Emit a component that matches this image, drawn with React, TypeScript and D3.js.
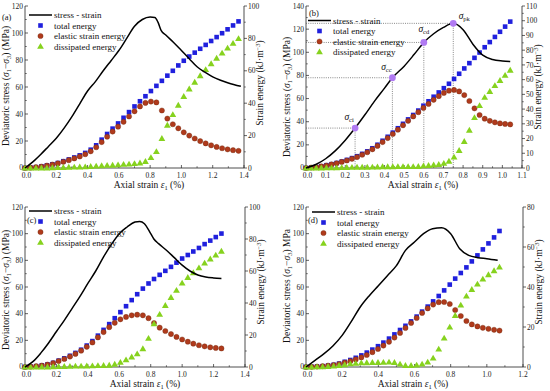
import React from 'react';
import * as d3 from 'd3';

const FONT = '"Liberation Serif", "Times New Roman", serif';

// ---------- panel (a) ----------
const strainA = [0, 0.035, 0.07, 0.105, 0.14, 0.175, 0.21, 0.245, 0.28, 0.315, 0.35, 0.385, 0.42, 0.455, 0.49, 0.525, 0.56, 0.595, 0.63, 0.665, 0.7, 0.735, 0.77, 0.805, 0.84, 0.875, 0.91, 0.945, 0.98, 1.015, 1.05, 1.085, 1.12, 1.155, 1.19, 1.225, 1.26, 1.295, 1.33, 1.365];
const totalA = [0, 0.2, 0.5, 1.0, 1.6, 2.3, 3.1, 4.2, 5.3, 6.5, 7.8, 9.3, 11.3, 14, 17.5, 21, 24.3, 27.5, 31, 34.5, 38, 41.2, 44.3, 47.5, 50.7, 53.8, 57, 60, 63.3, 66.2, 68.8, 71.2, 73.6, 76, 78.4, 80.8, 83.2, 85.6, 88, 90.5];
const elasticA = [0, 0.2, 0.5, 0.9, 1.5, 2.1, 2.8, 3.8, 4.8, 5.9, 7.1, 8.5, 10.3, 12.8, 16, 19.3, 22.5, 25.5, 28.5, 31.8, 35, 38, 40.2, 41, 40.5, 35.5, 30.5, 27, 24.5, 22, 20, 18.2, 16.6, 15.2, 14, 13, 12.2, 11.5, 11, 10.6];
const dissipatedA = [0, 0, 0, 0.1, 0.1, 0.2, 0.3, 0.4, 0.5, 0.6, 0.7, 0.8, 1.0, 1.2, 1.5, 1.7, 1.8, 2.0, 2.3, 2.5, 2.8, 3.2, 4.1, 6.5, 10.2, 18.3, 26.5, 33, 38.8, 44.2, 48.8, 53, 57, 60.8, 64.4, 67.8, 71, 74.1, 77, 79.9];
const curveStrainA = [0, 0.05, 0.1, 0.15, 0.2, 0.25, 0.3, 0.35, 0.4, 0.45, 0.5, 0.55, 0.6, 0.65, 0.7, 0.75, 0.8, 0.83, 0.85, 0.87, 0.9, 0.95, 1.0, 1.05, 1.1, 1.15, 1.2, 1.25, 1.3, 1.38];
const curveStressA = [0, 4.5, 10, 16, 22, 29.5, 38, 47.5, 57, 64, 72, 79.5, 87, 96, 105, 110, 111.8, 111.5, 108, 102, 98.5, 93, 87, 81, 75, 71, 67.5, 65, 63, 60.5];

// ---------- panel (b) ----------
const strainB = [0, 0.026, 0.052, 0.078, 0.104, 0.13, 0.156, 0.182, 0.208, 0.234, 0.26, 0.286, 0.312, 0.338, 0.364, 0.39, 0.416, 0.442, 0.468, 0.494, 0.52, 0.546, 0.572, 0.598, 0.624, 0.65, 0.676, 0.702, 0.728, 0.754, 0.78, 0.806, 0.832, 0.858, 0.884, 0.91, 0.936, 0.962, 0.988, 1.014, 1.04];
const totalB = [0, 0.3, 0.7, 1.2, 1.9, 2.6, 3.4, 4.4, 5.5, 6.7, 8.0, 9.6, 11.3, 13.4, 15.8, 18.5, 21.2, 24, 27, 30, 33, 36, 39, 42.3, 45.3, 48.4, 51.3, 54.2, 57.2, 60.5, 64, 67.6, 71.2, 74.8, 78.4, 82, 85.5, 89, 92.5, 96, 99.4];
const elasticB = [0, 0.3, 0.6, 1.1, 1.7, 2.4, 3.2, 4.1, 5.1, 6.2, 7.4, 9, 10.7, 12.7, 15, 17.6, 20.3, 23.1, 26, 29, 32, 35, 37.9, 40.8, 43.5, 46.3, 48.8, 51, 52.5, 53, 52, 49.5, 45.5, 40.5, 36, 33.5, 32, 31, 30.3, 29.9, 29.6];
const dissipatedB = [0, 0, 0.1, 0.1, 0.2, 0.2, 0.2, 0.3, 0.4, 0.5, 0.6, 0.6, 0.6, 0.7, 0.8, 0.9, 0.9, 0.9, 1.0, 1.0, 1.0, 1.0, 1.1, 1.5, 1.8, 2.1, 2.5, 3.2, 4.7, 7.5, 12, 18.1, 25.7, 34.3, 42.4, 48, 52, 56, 59.5, 63, 66.5];
const curveStrainB = [0, 0.05, 0.1, 0.15, 0.2, 0.25, 0.3, 0.35, 0.4, 0.44, 0.5, 0.55, 0.6, 0.65, 0.7, 0.75, 0.8, 0.85, 0.9, 0.95, 1.0, 1.04];
const curveStressB = [0, 3, 8, 15, 24, 34.5, 46, 58, 69, 78, 88, 98, 108.5, 116, 121.5, 125, 119.5, 107, 97.5, 93.8, 92.5, 92];
const keyStrainB = [0.25, 0.44, 0.6, 0.75];
const keyStressB = [34.5, 78, 108.5, 125];
const keyNamesB = ['ci', 'cc', 'cd', 'pk'];
const keyOffsetsB = [[-6, -8], [-6, -8], [0, -10], [11, -4]];

// ---------- panel (c) ----------
const strainC = [0, 0.036, 0.071, 0.107, 0.143, 0.179, 0.214, 0.25, 0.286, 0.321, 0.357, 0.393, 0.429, 0.464, 0.5, 0.536, 0.571, 0.607, 0.643, 0.679, 0.714, 0.75, 0.786, 0.821, 0.857, 0.893, 0.929, 0.964, 1.0, 1.036, 1.071, 1.107, 1.143, 1.179, 1.214, 1.25];
const totalC = [0, 0.2, 0.5, 1.0, 1.6, 2.6, 4.0, 5.4, 7.0, 8.8, 10.8, 13.4, 16.2, 19.6, 23.2, 26.8, 30.5, 34.3, 38, 41.8, 45.5, 49, 52.2, 55, 57.6, 60.1, 62.6, 65.2, 67.8, 70, 72.2, 74.4, 76.8, 79, 81.2, 83.4];
const elasticC = [0, 0.2, 0.5, 0.9, 1.5, 2.4, 3.7, 5.0, 6.5, 8.2, 10.2, 12.6, 15.3, 18.5, 21.8, 24.9, 27.6, 29.8, 31.3, 32.3, 32.7, 32.3, 30.5, 27.5, 24.6, 22.5, 20.6, 18.8, 17.2, 15.8, 14.6, 13.6, 12.9, 12.3, 11.9, 11.6];
const dissipatedC = [0, 0, 0, 0.1, 0.1, 0.2, 0.3, 0.4, 0.5, 0.6, 0.6, 0.7, 0.8, 0.9, 1.0, 1.2, 1.8, 3.0, 4.5, 6.3, 8.3, 11.5, 18, 27, 33, 38.5, 43.5, 48, 52.5, 56, 59, 62, 65, 67.6, 70, 72.4];
const curveStrainC = [0, 0.05, 0.1, 0.15, 0.2, 0.25, 0.3, 0.35, 0.4, 0.45, 0.5, 0.55, 0.6, 0.65, 0.7, 0.73, 0.76, 0.8, 0.82, 0.85, 0.9, 0.95, 1.0, 1.05, 1.1, 1.15, 1.2, 1.25];
const curveStressC = [0, 4, 10.4, 18, 26.6, 35, 44, 53, 62.7, 72, 82.6, 92, 100, 105, 108.7, 109.2, 107.5, 100, 96, 92.5, 87.6, 82, 76.4, 72, 69, 67.5, 66.8, 66.4];

// ---------- panel (d) ----------
const strainD = [0, 0.031, 0.061, 0.092, 0.122, 0.153, 0.183, 0.214, 0.245, 0.275, 0.306, 0.336, 0.367, 0.398, 0.428, 0.459, 0.489, 0.52, 0.55, 0.581, 0.612, 0.642, 0.673, 0.703, 0.734, 0.764, 0.795, 0.825, 0.856, 0.887, 0.917, 0.948, 0.978, 1.009, 1.04, 1.07];
const totalD = [0, 0.1, 0.2, 0.4, 0.7, 1.1, 1.7, 2.6, 3.5, 4.6, 5.8, 7.2, 8.7, 10.4, 12.2, 14.2, 16.3, 18.5, 20.6, 22.8, 25.2, 27.7, 30.2, 32.8, 35.5, 38.3, 41.2, 44.2, 47, 49.8, 52.8, 55.8, 58.8, 61.8, 64.8, 68];
const elasticD = [0, 0.1, 0.2, 0.4, 0.7, 1.0, 1.5, 2.2, 2.9, 3.8, 4.8, 6.0, 7.4, 9.0, 10.7, 12.6, 14.7, 17, 19.5, 22, 24.5, 27, 29.3, 31.2, 32.4, 32.5, 31.5, 28.5, 25.5, 23, 21.3, 20.3, 19.6, 19.1, 18.6, 18.2];
const dissipatedD = [0, 0, 0.1, 0.2, 0.3, 0.5, 0.8, 1.2, 1.6, 1.9, 2.1, 2.2, 2.3, 2.3, 2.4, 2.5, 2.3, 1.5, 0.8, 0.8, 1.0, 1.5, 2.5, 4.5, 9, 14.5, 20, 25.8, 31, 35.5, 38.8, 41.5, 44, 46.2, 48.2, 50];
const curveStrainD = [0, 0.05, 0.1, 0.15, 0.2, 0.25, 0.3, 0.35, 0.4, 0.45, 0.5, 0.55, 0.6, 0.65, 0.7, 0.75, 0.8, 0.85, 0.9, 0.95, 1.0, 1.06];
const curveStressD = [0, 5, 10, 16, 23.7, 34, 45, 53.5, 61, 68.5, 76, 87.5, 93.7, 100, 103.7, 104.5, 100, 88.7, 83.7, 82, 81.2, 80];

// ---------- ticks ----------
const xTicks14 = [0, 0.2, 0.4, 0.6, 0.8, 1.0, 1.2, 1.4];
const xTicks11 = [0, 0.1, 0.2, 0.3, 0.4, 0.5, 0.6, 0.7, 0.8, 0.9, 1.0, 1.1];
const xTicks12 = [0, 0.2, 0.4, 0.6, 0.8, 1.0, 1.2];
const stressTicks120 = [0, 20, 40, 60, 80, 100, 120];
const stressTicks140 = [0, 20, 40, 60, 80, 100, 120, 140];
const energyTicks100 = [0, 20, 40, 60, 80, 100];
const energyTicks110 = [0, 10, 20, 30, 40, 50, 60, 70, 80, 90, 100, 110];
const energyTicks80 = [0, 20, 40, 60, 80];

const legendLabels = ['stress - strain', 'total energy', 'elastic strain energy', 'dissipated energy'];

const BLUE = '#2020dd';
const BROWN = '#b03a1c';
const GREEN = '#86d21e';
const PURPLE = '#b07af2';

interface PanelCfg {
  tag: string;
  box: { x0: number; x1: number; y0: number; y1: number };
  xTicks: number[];
  sTicks: number[];
  eTicks: number[];
  strain: number[];
  total: number[];
  elastic: number[];
  dissipated: number[];
  cStrain: number[];
  cStress: number[];
  legend: { x: number; y: number };
  tagPos: { x: number; y: number };
  xLabelX: number;
  yLabelY: number;
  eLabelY: number;
  unitParen: boolean;
  keys?: boolean;
}

const panels: PanelCfg[] = [
  {
    tag: '(a)', box: { x0: 25, x1: 244, y0: 6, y1: 168 },
    xTicks: xTicks14, sTicks: stressTicks120, eTicks: energyTicks100,
    strain: strainA, total: totalA, elastic: elasticA, dissipated: dissipatedA,
    cStrain: curveStrainA, cStress: curveStressA,
    legend: { x: 29, y: 15 }, tagPos: { x: 2, y: 20 }, xLabelX: 149, yLabelY: 86, eLabelY: 83, unitParen: true,
  },
  {
    tag: '(b)', box: { x0: 306, x1: 522, y0: 6, y1: 168 },
    xTicks: xTicks11, sTicks: stressTicks140, eTicks: energyTicks110,
    strain: strainB, total: totalB, elastic: elasticB, dissipated: dissipatedB,
    cStrain: curveStrainB, cStress: curveStressB,
    legend: { x: 308, y: 20.5 }, tagPos: { x: 309, y: 16 }, xLabelX: 423, yLabelY: 97, eLabelY: 87, unitParen: true, keys: true,
  },
  {
    tag: '(c)', box: { x0: 25, x1: 245, y0: 207, y1: 367 },
    xTicks: xTicks14, sTicks: stressTicks120, eTicks: energyTicks100,
    strain: strainC, total: totalC, elastic: elasticC, dissipated: dissipatedC,
    cStrain: curveStrainC, cStress: curveStressC,
    legend: { x: 29, y: 211 }, tagPos: { x: 27, y: 223 }, xLabelX: 145, yLabelY: 290, eLabelY: 282, unitParen: true,
  },
  {
    tag: '(d)', box: { x0: 306, x1: 523, y0: 207, y1: 367 },
    xTicks: xTicks12, sTicks: stressTicks120, eTicks: energyTicks80,
    strain: strainD, total: totalD, elastic: elasticD, dissipated: dissipatedD,
    cStrain: curveStrainD, cStress: curveStressD,
    legend: { x: 312, y: 212 }, tagPos: { x: 308, y: 223 }, xLabelX: 413, yLabelY: 286, eLabelY: 282, unitParen: false,
  },
];

const triPath = d3.symbol(d3.symbolTriangle, 20)() as string;

function Panel({ p }: { p: PanelCfg }) {
  const { x0, x1, y0, y1 } = p.box;
  const x = d3.scaleLinear().domain([0, p.xTicks[p.xTicks.length - 1]]).range([x0, x1]);
  const ys = d3.scaleLinear().domain([0, p.sTicks[p.sTicks.length - 1]]).range([y1, y0]);
  const ye = d3.scaleLinear().domain([0, p.eTicks[p.eTicks.length - 1]]).range([y1, y0]);
  const line = d3
    .line<number>()
    .x((_, i) => x(p.cStrain[i]))
    .y((d) => ys(d))
    .curve(d3.curveMonotoneX);
  const xMinor = p.xTicks.slice(1).map((t, i) => (t + p.xTicks[i]) / 2);
  const sMinor = p.sTicks.slice(1).map((t, i) => (t + p.sTicks[i]) / 2);
  const eMinor = p.eTicks.slice(1).map((t, i) => (t + p.eTicks[i]) / 2);
  const fmtX = d3.format('.1f');
  const ax = '#222';
  const lx = p.legend.x;
  const ly = p.legend.y;

  return (
    <g fontFamily={FONT}>
      {/* axes */}
      <line x1={x0} x2={x1} y1={y1} y2={y1} stroke={ax} strokeWidth={0.8} />
      <line x1={x0} x2={x0} y1={y0} y2={y1} stroke={ax} strokeWidth={0.8} />
      <line x1={x1} x2={x1} y1={y0} y2={y1} stroke={ax} strokeWidth={0.8} />
      {p.xTicks.map((t) => (
        <g key={'x' + t}>
          <line x1={x(t)} x2={x(t)} y1={y1} y2={y1 - 3} stroke={ax} strokeWidth={0.7} />
          <text x={x(t) + (t === 0 ? 1.5 : 0)} y={y1 + 9.5} fontSize={7.5} textAnchor="middle" fill="#222">{fmtX(t)}</text>
        </g>
      ))}
      {xMinor.map((t) => (
        <line key={'xm' + t} x1={x(t)} x2={x(t)} y1={y1} y2={y1 - 1.8} stroke={ax} strokeWidth={0.6} />
      ))}
      {p.sTicks.map((t) => (
        <g key={'s' + t}>
          <line x1={x0} x2={x0 + 3} y1={ys(t)} y2={ys(t)} stroke={ax} strokeWidth={0.7} />
          <text x={x0 - 2} y={ys(t) + (t === 0 ? 1.5 : 2.6)} fontSize={7.5} textAnchor="end" fill="#222">{t}</text>
        </g>
      ))}
      {sMinor.map((t) => (
        <line key={'sm' + t} x1={x0} x2={x0 + 1.8} y1={ys(t)} y2={ys(t)} stroke={ax} strokeWidth={0.6} />
      ))}
      {p.eTicks.map((t) => (
        <g key={'e' + t}>
          <line x1={x1} x2={x1 + 3} y1={ye(t)} y2={ye(t)} stroke={ax} strokeWidth={0.7} />
          <text x={x1 + 4} y={ye(t) + 2.6} fontSize={7.5} textAnchor="start" fill="#222">{t}</text>
        </g>
      ))}
      {eMinor.map((t) => (
        <line key={'em' + t} x1={x1} x2={x1 + 1.8} y1={ye(t)} y2={ye(t)} stroke={ax} strokeWidth={0.6} />
      ))}

      {/* axis titles */}
      <text x={p.xLabelX} y={y1 + 19.5} fontSize={9.5} textAnchor="middle" fill="#111">
        Axial strain <tspan fontStyle="italic">ε</tspan>
        <tspan fontSize={6.5} dy={2}>1</tspan>
        <tspan dy={-2}> (%)</tspan>
      </text>
      <text transform={`translate(${x0 - 16},${p.yLabelY}) rotate(-90)`} fontSize={9.5} textAnchor="middle" fill="#111">
        Deviatoric stress (<tspan fontStyle="italic">σ</tspan>
        <tspan fontSize={6.5} dy={2}>1</tspan>
        <tspan dy={-2}>−</tspan>
        <tspan fontStyle="italic">σ</tspan>
        <tspan fontSize={6.5} dy={2}>3</tspan>
        <tspan dy={-2}>) {p.unitParen ? '(MPa)' : 'MPa'}</tspan>
      </text>
      <text transform={`translate(${x1 + 19},${p.eLabelY}) rotate(-90)`} fontSize={9.5} textAnchor="middle" fill="#111">
        Strain energy (kJ·m<tspan fontSize={6.5} dy={-3}>−3</tspan>
        <tspan dy={3}>)</tspan>
      </text>

      {/* key stress points (b) */}
      {p.keys &&
        keyStrainB.map((s, i) => (
          <g key={'k' + i}>
            <line x1={x0} x2={x(s)} y1={ys(keyStressB[i])} y2={ys(keyStressB[i])} stroke="#555" strokeWidth={0.7} strokeDasharray="1,1.2" />
            <line x1={x(s)} x2={x(s)} y1={ys(keyStressB[i])} y2={y1} stroke="#555" strokeWidth={0.7} strokeDasharray="1,1.2" />
          </g>
        ))}

      {/* energy series */}
      {p.strain.map((s, i) => (
        <rect key={'t' + i} x={x(s) - 2.3} y={ye(p.total[i]) - 2.3} width={4.6} height={4.6} fill={BLUE} />
      ))}
      {p.strain.map((s, i) => (
        <circle key={'el' + i} cx={x(s)} cy={ye(p.elastic[i])} r={2.6} fill={BROWN} stroke="#6e2a10" strokeWidth={0.4} />
      ))}
      {p.strain.map((s, i) => (
        <path key={'d' + i} d={triPath} transform={`translate(${x(s)},${ye(p.dissipated[i]) + 0.6})`} fill={GREEN} />
      ))}

      {/* stress curve */}
      <path d={line(p.cStress) as string} fill="none" stroke="#000" strokeWidth={1.5} />

      {p.keys &&
        keyStrainB.map((s, i) => (
          <g key={'kp' + i}>
            <circle cx={x(s)} cy={ys(keyStressB[i])} r={3.4} fill={PURPLE} />
            <text x={x(s) + keyOffsetsB[i][0]} y={ys(keyStressB[i]) + keyOffsetsB[i][1]} fontSize={9.5} textAnchor="middle" fill="#111">
              <tspan fontStyle="italic">σ</tspan>
              <tspan fontSize={6.5} dy={2}>{keyNamesB[i]}</tspan>
            </text>
          </g>
        ))}

      {/* tag */}
      <text x={p.tagPos.x} y={p.tagPos.y} fontSize={8.5} fill="#111">{p.tag}</text>

      {/* legend */}
      <line x1={lx} x2={lx + 23} y1={ly} y2={ly} stroke="#000" strokeWidth={1.5} />
      <rect x={lx + 11.5 - 2.3} y={ly + 10.5 - 2.3} width={4.6} height={4.6} fill={BLUE} />
      <circle cx={lx + 11.5} cy={ly + 21} r={2.6} fill={BROWN} stroke="#6e2a10" strokeWidth={0.4} />
      <path d={triPath} transform={`translate(${lx + 11.5},${ly + 31.8})`} fill={GREEN} />
      {legendLabels.map((l, i) => (
        <text key={l} x={lx + 25} y={ly + i * 10.5 + 3} fontSize={9} fill="#111">{l}</text>
      ))}
    </g>
  );
}

export default function App() {
  return (
    <svg
      width={550}
      height={391}
      style={{ position: 'absolute', left: 0, top: 0, background: '#fff' }}
    >
      <rect width={550} height={391} fill="#fff" />
      {panels.map((p) => (
        <Panel key={p.tag} p={p} />
      ))}
    </svg>
  );
}
